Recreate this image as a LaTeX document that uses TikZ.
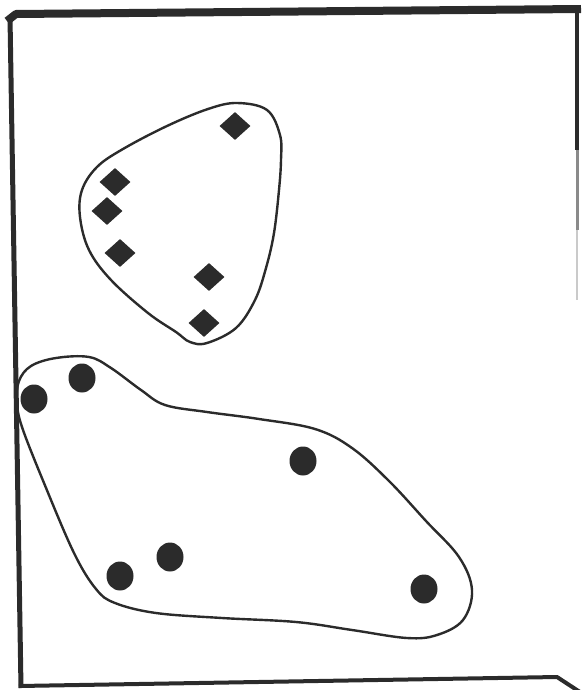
\documentclass[tikz,border=0pt]{standalone}
\usepackage{tikz}
\usetikzlibrary{shapes.geometric}
\usepackage{xcolor}

\definecolor{ink}{HTML}{2B2B2B}

\begin{document}
\begin{tikzpicture}[
  x=1pt, y=-1pt,
  frame/.style={draw=ink, line cap=butt, line join=bevel},
  hull/.style={draw=ink, line width=2.4pt},
  dmd/.style={
    diamond, fill=ink, inner sep=0pt,
    minimum width=31pt, minimum height=28pt
  },
  crc/.style={
    ellipse, fill=ink, inner sep=0pt,
    minimum width=27pt, minimum height=29pt
  }
]
\useasboundingbox (0,0) rectangle (581,690);

% frame of the scanned page
\draw[frame, line width=8pt] (7,21) -- (16,14) -- (581,9);
\draw[frame, line width=5pt] (10,17) -- (21,688);
\draw[frame, line width=4pt] (19,686) -- (557,677) -- (583,694);
\draw[frame, line width=4pt] (577,8) -- (577,150);
\draw[frame, line width=3pt, draw=ink!55] (577,150) -- (577,230);
\draw[frame, line width=2pt, draw=ink!25] (577,230) -- (577,300);

% upper group
\draw[hull] plot[smooth cycle, tension=0.6] coordinates {
  (237,103) (267,110) (280,135) (281,160) (279,190) (274,233)
  (266,268) (255,300) (236,328) (207,343) (190,342) (176,332)
  (148,313) (111,280) (89,250) (80,217) (82,190) (97,167)
  (123,149) (167,126) (208,109)};

\node[dmd] (d1) at (235,126) {};
\node[dmd] (d2) at (115,182) {};
\node[dmd] (d3) at (107,211) {};
\node[dmd] (d4) at (120,253) {};
\node[dmd] (d5) at (209,277) {};
\node[dmd] (d6) at (204,323) {};

% lower group
\draw[hull] plot[smooth cycle, tension=0.6] coordinates {
  (19,381) (31,366) (56,358) (89,357) (111,368) (141,390)
  (165,405) (207,412) (259,419) (315,429) (352,448) (389,481)
  (426,521) (459,557) (472,590) (463,620) (437,635) (407,638)
  (352,630) (296,622) (222,618) (156,613) (115,603) (96,589)
  (74,553) (44,483) (22,427) (17,402)};

\node[crc] (c1) at (34,399) {};
\node[crc] (c2) at (82,378) {};
\node[crc] (c3) at (303,461) {};
\node[crc] (c4) at (170,557) {};
\node[crc] (c5) at (120,576) {};
\node[crc] (c6) at (424,589) {};

\end{tikzpicture}
\end{document}
